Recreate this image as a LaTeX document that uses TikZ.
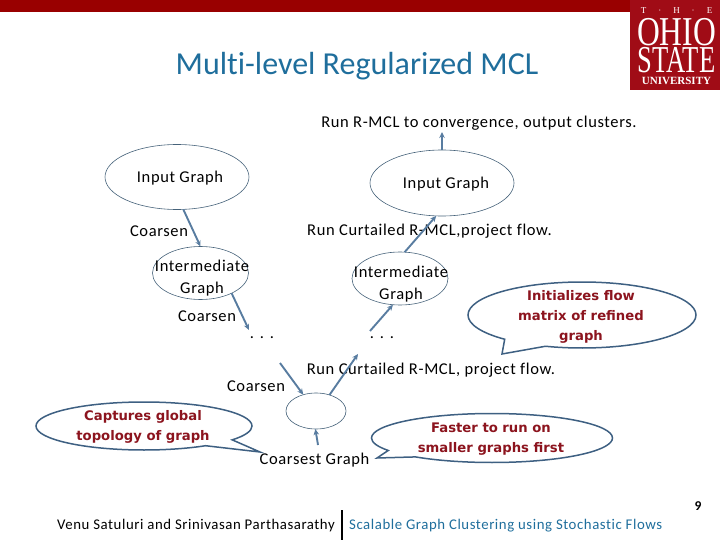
\documentclass[tikz,border=0pt]{standalone}
\usepackage{fontspec}
\setmainfont[LetterSpace=3.8,Ligatures=CommonOff]{Carlito}
\newfontfamily\titleface[Ligatures=CommonOff]{Carlito}
\newfontfamily\noteface{DejaVu Sans}
\newfontfamily\logoface{Liberation Serif}
\usetikzlibrary{positioning,arrows.meta,shapes.geometric,shapes.callouts}
\definecolor{osuRed}{RGB}{160,12,22}
\definecolor{bandRed}{RGB}{153,0,0}
\definecolor{titleBlue}{RGB}{31,110,156}
\definecolor{flowBlue}{RGB}{88,124,160}
\definecolor{ringGray}{RGB}{70,98,122}
\definecolor{noteRed}{RGB}{140,20,30}
\definecolor{noteEdge}{RGB}{62,96,130}
\tikzset{
  graphnode/.style={draw=ringGray, ellipse, line width=0.6pt, inner sep=0pt, outer sep=0pt},
  flow/.style={draw=flowBlue, line width=1.9pt, -{Stealth[length=6pt,width=5.5pt]}},
  txt/.style={font=\fontsize{16.5}{22}\selectfont, align=center, inner sep=0pt},
  notebox/.style={draw=noteEdge, ellipse callout, line width=1.5pt, inner sep=0pt, outer sep=0pt, fill=white},
  notetxt/.style={font=\noteface\bfseries\fontsize{13.2}{20}\selectfont, text=noteRed, align=center, inner sep=0pt},
  logotxt/.style={font=\logoface\fontsize{9}{0}\selectfont, text=white, inner sep=0pt, align=center}
}
\begin{document}
\begin{tikzpicture}[x=1pt,y=-1pt]
  \useasboundingbox (0,0) rectangle (720,540);

  % Band and logo
  \fill[bandRed] (0,0) rectangle (630,12);
  \fill[osuRed] (630,0) rectangle (720,90);
  \node[logotxt, anchor=north] (logo) at (676.5,7) {%
    T\hspace{12pt}·\hspace{12pt}H\hspace{12pt}·\hspace{12pt}E\\[4pt]
    \fontsize{41}{0}\selectfont\scalebox{0.77}[1]{OHIO}\\[1pt]
    \fontsize{38}{0}\selectfont\scalebox{0.70}[1]{STATE}\\[3pt]
    \fontsize{11}{0}\selectfont\bfseries UNIVERSITY};

  % Title
  \node[text=titleBlue, inner sep=0pt] (title) at (357,66) {\titleface\fontsize{32}{36}\selectfont Multi-level Regularized MCL};

  % Graph ellipses
  \node[graphnode, minimum width=144, minimum height=65] (inputL) at (177,177) {};
  \node[graphnode, minimum width=144, minimum height=66] (inputR) at (442,183) {};
  \node[graphnode, minimum width=96, minimum height=53] (interL) at (200.5,273) {};
  \node[graphnode, minimum width=96, minimum height=53] (interR) at (400,278.5) {};
  \node[graphnode, minimum width=60, minimum height=36] (coarsest) at (316,411) {};

  % Text
  \node[txt] (runTop) at (479,123) {Run R-MCL to convergence, output clusters.};
  \node[txt] (inputLtxt) at (180,178) {Input Graph};
  \node[txt] (inputRtxt) at (446,184) {Input Graph};
  \node[txt] (coarsenA) at (159,231) {Coarsen};
  \node[txt] (runA) at (429.5,231) {Run Curtailed R-MCL,project flow.};
  \node[txt] (interLtxt) at (202,278) {Intermediate\\Graph};
  \node[txt] (interRtxt) at (401,284) {Intermediate\\Graph};
  \node[txt] (coarsenB) at (207,316) {Coarsen};
  \node[txt] (dotsL) at (262,338) {. . .};
  \node[txt] (dotsR) at (382,338) {. . .};
  \node[txt] (coarsenC) at (256,386) {Coarsen};
  \node[txt] (runB) at (431,370) {Run Curtailed R-MCL, project flow.};
  \node[txt] (coarsestTxt) at (314.5,460) {Coarsest Graph};

  % Free ends
  \coordinate (outTop) at (442,132);
  \coordinate (fromB) at (249,330);
  \coordinate (intoC) at (280,363);
  \coordinate (upB) at (358,354);
  \coordinate (fromCst) at (318,445);
  \coordinate (upDots) at (370,331);

  % Flow arrows
  \draw[flow] (inputL.-79) -- (interL.90);
  \draw[flow] (interL.-33) -- (fromB);
  \draw[flow] (intoC) -- (coarsest.128);
  \draw[flow] (coarsest.50) -- (upB);
  \draw[flow] (fromCst) -- (coarsest.-92);
  \draw[flow] (upDots) -- (interR.-105);
  \draw[flow] (interR.80) -- (inputR.-100);
  \draw[flow] (inputR.90) -- (outTop);

  % Callouts
  \node[notebox, minimum width=228, minimum height=66, callout absolute pointer={(502,354)}, callout pointer arc=24] (noteInit) at (582,315) {};
  \node[notetxt] (noteInitTxt) at (581,316.5) {Initializes flow\\matrix of refined\\graph};
  \node[notebox, minimum width=216, minimum height=48, callout absolute pointer={(260,452)}, callout pointer arc=20] (noteCap) at (144,426) {};
  \node[notetxt] (noteCapTxt) at (143,427) {Captures global\\topology of graph};
  \node[notebox, minimum width=241, minimum height=49, callout absolute pointer={(377,458)}, callout pointer arc=20] (noteFast) at (492,438) {};
  \node[notetxt] (noteFastTxt) at (491,439) {Faster to run on\\smaller graphs first};

  % Footer
  \node[inner sep=0pt] (pageNo) at (698,506) {\fontsize{13.5}{14}\selectfont\bfseries 9};
  \node[inner sep=0pt, anchor=east] (authors) at (335,526) {\fontsize{14.8}{16}\selectfont Venu Satuluri and Srinivasan Parthasarathy};
  \node[inner sep=0pt, anchor=west, text=titleBlue] (talk) at (349,526) {\fontsize{14.8}{16}\selectfont Scalable Graph Clustering using Stochastic Flows};
  \draw[line width=1.8pt] (342,510) -- (342,540);
\end{tikzpicture}
\end{document}
